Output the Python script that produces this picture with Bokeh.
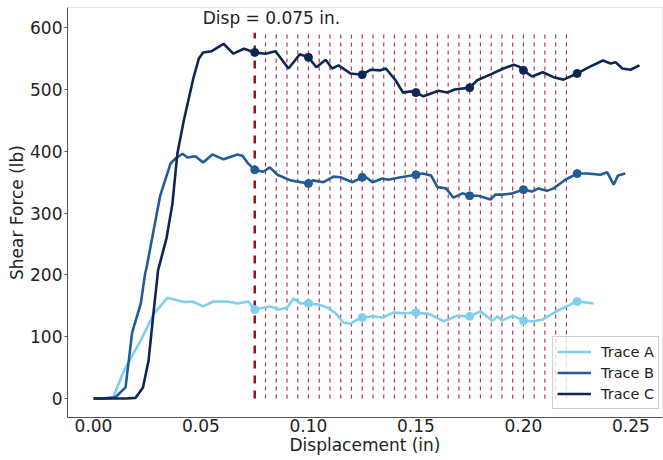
from bokeh.plotting import figure
from bokeh.models import Range1d, Label, Legend, LegendItem
from bokeh.embed import file_html
from bokeh.resources import INLINE

# ---------------- data ----------------
trace_a_x = [0, 0.005, 0.0093, 0.0135, 0.016, 0.022, 0.028, 0.0344, 0.0419, 0.046, 0.051, 0.0558, 0.0623, 0.067,
             0.072, 0.075, 0.079, 0.0823, 0.086, 0.090, 0.093, 0.0963, 0.100, 0.1047, 0.109, 0.1126, 0.1163, 0.1195,
             0.1228, 0.125, 0.130, 0.1344, 0.1395, 0.144, 0.150, 0.156, 0.163, 0.169, 0.175, 0.180, 0.1855, 0.188,
             0.190, 0.195, 0.200, 0.2047, 0.209, 0.2158, 0.2205, 0.225, 0.2326]
trace_a_y = [0, 0, 3, 40, 57, 94, 137, 163, 156, 157, 149, 157, 157, 154,
             157, 144, 147, 149, 144, 147, 162, 154, 154, 152, 147, 138, 123, 121,
             128, 131, 133, 131, 139, 138, 139, 137, 125, 134, 133, 141, 126, 133,
             126, 134, 126, 125, 128, 142, 150, 157, 154]

trace_b_x = [0, 0.005, 0.0102, 0.0149, 0.018, 0.022, 0.024, 0.0247, 0.031, 0.0358, 0.038, 0.0414, 0.0437, 0.0474,
             0.051, 0.0553, 0.0605, 0.067, 0.0693, 0.072, 0.075, 0.079, 0.082, 0.0856, 0.0916, 0.100, 0.102, 0.107,
             0.1116, 0.1148, 0.1205, 0.125, 0.1265, 0.1298, 0.1344, 0.137, 0.143, 0.150, 0.153, 0.157, 0.160, 0.164,
             0.1674, 0.1716, 0.175, 0.179, 0.1847, 0.187, 0.1907, 0.195, 0.200, 0.204, 0.207, 0.211, 0.214, 0.2195,
             0.225, 0.2297, 0.2358, 0.239, 0.242, 0.244, 0.2474]
trace_b_y = [0, 0, 2, 18, 107, 154, 202, 212, 328, 380, 388, 396, 390, 392,
             382, 395, 387, 395, 393, 380, 370, 367, 374, 362, 353, 348, 353, 350,
             359, 358, 350, 358, 359, 350, 356, 354, 358, 362, 364, 361, 342, 340,
             325, 332, 328, 328, 322, 330, 330, 332, 338, 335, 340, 336, 340, 354,
             364, 364, 362, 366, 346, 361, 364]

trace_c_x = [0, 0.005, 0.010, 0.015, 0.0195, 0.023, 0.0256, 0.028, 0.0297, 0.030, 0.034, 0.0367, 0.039, 0.042,
             0.0465, 0.049, 0.051, 0.055, 0.0605, 0.065, 0.070, 0.075, 0.080, 0.0847, 0.0907, 0.096, 0.100, 0.1037,
             0.108, 0.111, 0.114, 0.1195, 0.125, 0.129, 0.1335, 0.136, 0.1405, 0.144, 0.1475, 0.150, 0.1535, 0.1605,
             0.1645, 0.168, 0.175, 0.1785, 0.1845, 0.1907, 0.1955, 0.198, 0.200, 0.204, 0.209, 0.214, 0.2186, 0.225,
             0.231, 0.237, 0.2405, 0.243, 0.246, 0.2498, 0.251, 0.254]
trace_c_y = [0, 0, 0, 0, 1, 18, 61, 142, 196, 207, 260, 315, 396, 450,
             519, 550, 560, 562, 574, 558, 566, 560, 558, 562, 534, 557, 552, 536,
             548, 534, 539, 526, 524, 532, 531, 534, 515, 495, 497, 495, 489, 498,
             495, 500, 503, 515, 524, 534, 540, 537, 531, 521, 528, 520, 516, 526,
             537, 547, 542, 544, 534, 532, 534, 539]

marker_x = [0.075, 0.100, 0.125, 0.150, 0.175, 0.200, 0.225]
marker_a_y = [144, 154, 131, 139, 133, 126, 157]
marker_b_y = [370, 348, 358, 362, 328, 338, 364]
marker_c_y = [560, 552, 524, 495, 503, 531, 526]

main_disp = 0.075
step_disps = [0.080, 0.085, 0.090, 0.095, 0.100, 0.105, 0.110, 0.115, 0.120, 0.125,
              0.130, 0.135, 0.140, 0.145, 0.150, 0.155, 0.160, 0.165, 0.170, 0.175,
              0.180, 0.185, 0.190, 0.195, 0.200, 0.205, 0.210, 0.215, 0.220]
vline_bottom = 0
vline_top = 592

series_names = ["Trace A", "Trace B", "Trace C"]
series_colors = ["#7fd0ef", "#245b97", "#0f2552"]

FONT = "DejaVu Sans"

p = figure(width=663, height=460, output_backend="svg", toolbar_location=None,
           x_range=Range1d(-0.0121, 0.2647), y_range=Range1d(-30.7, 632.7),
           min_border_left=67, min_border_right=1, min_border_top=7, min_border_bottom=43)

p.background_fill_color = "white"
p.border_fill_color = "white"
p.outline_line_color = "#e6e6e6"
p.xgrid.visible = False
p.ygrid.visible = False

# vertical dashed lines
p.segment(x0=step_disps, y0=[vline_bottom] * len(step_disps), x1=step_disps, y1=[vline_top] * len(step_disps),
          line_color="#a8142c", line_width=1.2, line_dash="4 4", line_alpha=0.85)
p.segment(x0=[main_disp], y0=[vline_bottom], x1=[main_disp], y1=[vline_top],
          line_color="#a50f1e", line_width=2.5, line_dash="8 7")

xs = [trace_a_x, trace_b_x, trace_c_x]
ys = [trace_a_y, trace_b_y, trace_c_y]
mys = [marker_a_y, marker_b_y, marker_c_y]
items = []
for name, color, x, y, my in zip(series_names, series_colors, xs, ys, mys):
    r = p.line(x, y, line_color=color, line_width=2.6)
    p.scatter(marker_x, my, size=8, fill_color=color, line_color=color)
    items.append(LegendItem(label=name, renderers=[r]))

legend = Legend(items=items, location=(485, 8), label_text_font=FONT,
                label_text_font_size="14.5px", label_text_color="#222222",
                border_line_color="#d0d0d0", border_line_alpha=1.0,
                background_fill_alpha=0.8, glyph_width=34, glyph_height=21,
                label_height=21, spacing=0, padding=4, margin=0, label_standoff=10)
p.add_layout(legend)

p.add_layout(Label(x=0.0828, y=616, text="Disp = 0.075 in.", text_align="center",
                   text_baseline="middle", text_font=FONT, text_font_size="17px",
                   text_color="#222222"))

for ax in (p.xaxis[0], p.yaxis[0]):
    ax.axis_line_color = "#555555"
    ax.axis_line_width = 1
    ax.major_label_text_font = FONT
    ax.major_label_text_font_size = "17px"
    ax.major_label_text_color = "#222222"
    ax.axis_label_text_font = FONT
    ax.axis_label_text_font_size = "17px"
    ax.axis_label_text_font_style = "normal"
    ax.axis_label_text_color = "#222222"
    ax.minor_tick_line_color = None

p.xaxis.axis_label = "Displacement (in)"
p.yaxis.axis_label = "Shear Force (lb)"
p.xaxis.ticker = [0.0, 0.05, 0.10, 0.15, 0.20, 0.25]
p.xaxis.major_label_overrides = {0.0: "0.00", 0.05: "0.05", 0.1: "0.10", 0.15: "0.15", 0.2: "0.20", 0.25: "0.25"}
p.yaxis.ticker = [0, 100, 200, 300, 400, 500, 600]
p.xaxis.major_tick_out = 0
p.xaxis.major_tick_in = 0
p.xaxis.major_label_standoff = 1
p.xaxis.axis_label_standoff = 0
p.yaxis.major_tick_out = 3
p.yaxis.major_tick_in = 0
p.yaxis.major_tick_line_color = "#555555"
p.yaxis.major_label_standoff = 2
p.yaxis.axis_label_standoff = 0

open("out.html", "w").write(file_html(p, INLINE))
